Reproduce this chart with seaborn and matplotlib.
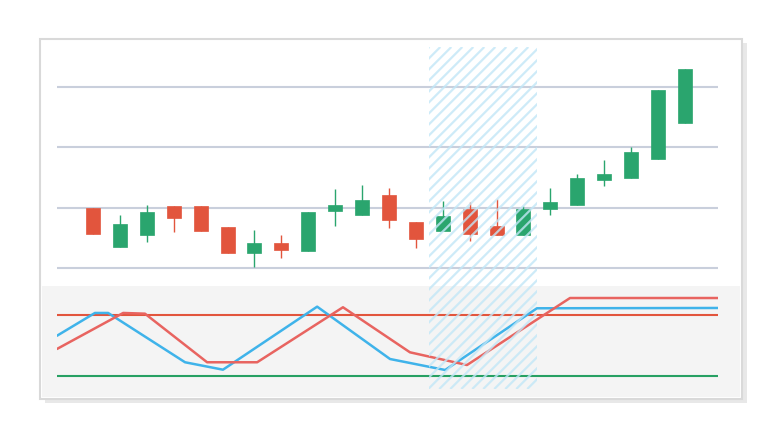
import matplotlib.pyplot as plt
import matplotlib.patches as mpatches
from matplotlib.collections import LineCollection
from matplotlib.transforms import IdentityTransform
import seaborn as sns
import pandas as pd
import numpy as np

# dados das velas (OHLC)
opens = [19.9, 13.5, 15.5, 20.3, 20.3, 16.7, 12.5, 14.1, 12.8, 19.4, 18.8, 22.1,
         17.6, 16.1, 19.8, 16.9, 15.4, 19.8, 20.5, 24.5, 24.9, 28.0, 34.0]
closes = [15.7, 17.3, 19.2, 18.2, 16.1, 12.5, 14.1, 13.0, 19.3, 20.5, 21.3, 17.9,
          14.8, 18.6, 15.6, 15.4, 19.8, 20.9, 24.9, 25.5, 29.2, 39.5, 42.9]
highs = [19.9, 18.8, 20.4, 20.3, 20.3, 16.7, 16.3, 15.5, 19.3, 23.1, 23.8, 23.3,
         17.6, 21.1, 20.9, 21.4, 20.3, 23.2, 25.5, 27.9, 30.0, 39.5, 42.9]
lows = [15.7, 13.5, 14.3, 16.0, 16.1, 12.5, 10.2, 11.6, 12.8, 17.0, 18.8, 16.6,
        13.3, 16.1, 14.4, 15.4, 15.4, 18.8, 20.5, 23.5, 24.9, 28.0, 34.0]

# oscilador estocástico
k_x = [-1.34, 0.07, 0.56, 3.42, 4.83, 8.33, 11.04, 13.09, 16.5, 23.23]
k_vals = [59.6, 82.0, 82.0, 33.5, 26.2, 88.2, 36.7, 25.9, 86.6, 86.9]
d_x = [-1.34, 1.12, 1.93, 4.24, 6.10, 9.29, 11.78, 13.9, 17.73, 23.23]
d_vals = [46.6, 82.0, 81.3, 33.5, 33.5, 87.6, 43.3, 30.8, 96.7, 96.7]

overbought = 80
oversold = 20
band_start, band_end = 12.5, 16.5
grid_levels = [10, 20, 30, 40]

UP = '#2aa56e'
DOWN = '#e2553d'
BLUE = '#3fb3ea'
RED_LINE = '#e86460'

sns.set_theme(style='white')

fig = plt.figure(figsize=(7.8, 4.39), dpi=100)
fig.patch.set_facecolor('white')

# cartão com sombra (atrás dos eixos)
fig.patches.append(mpatches.Rectangle((0.0513 + 0.006, 0.0888 - 0.01), 0.9, 0.82,
                                      transform=fig.transFigure, facecolor='#e8e8e8',
                                      edgecolor='none', zorder=-3))
fig.patches.append(mpatches.Rectangle((0.0513, 0.0888), 0.9, 0.82,
                                      transform=fig.transFigure, facecolor='white',
                                      edgecolor='#d9d9d9', linewidth=1.5, zorder=-2))
fig.patches.append(mpatches.Rectangle((0.0538, 0.0925), 0.895, 0.2537,
                                      transform=fig.transFigure, facecolor='#f4f4f4',
                                      edgecolor='none', zorder=-1))

ax = fig.add_axes([0.07308, 0.3462, 0.8474, 0.5445])
ax2 = fig.add_axes([0.07308, 0.1116, 0.8474, 0.2346], sharex=ax)
for a in (ax, ax2):
    a.set_facecolor('none')
    for s in a.spines.values():
        s.set_visible(False)
    a.tick_params(left=False, bottom=False, labelleft=False, labelbottom=False)

# ============================================
# VELAS
# ============================================
df = pd.DataFrame({'open': opens, 'close': closes, 'high': highs, 'low': lows})
df['idx'] = np.arange(len(df))
df['up'] = df['close'] >= df['open']
colors = [UP if u else DOWN for u in df['up']]

for lvl in grid_levels:
    ax.axhline(lvl, color='#c9cfdc', lw=1.5, zorder=1)

ax.vlines(df['idx'], df['low'], df['high'], colors=colors, lw=1.0, zorder=2)
ax.bar(df['idx'], (df['close'] - df['open']).abs(),
       bottom=df[['open', 'close']].min(axis=1), width=0.52,
       color=colors, edgecolor=colors, linewidth=0.5, zorder=3)
ax.set_xlim(-1.34, 23.23)
ax.set_ylim(7.0, 46.6)

# ============================================
# OSCILADOR
# ============================================
ax2.axhline(overbought, color=DOWN, lw=1.5, zorder=1)
ax2.axhline(oversold, color='#27a063', lw=1.5, zorder=1)
sns.lineplot(x=k_x, y=k_vals, ax=ax2, color=BLUE, lw=1.8, zorder=3)
sns.lineplot(x=d_x, y=d_vals, ax=ax2, color=RED_LINE, lw=1.8, zorder=3)
ax2.set_ylim(7.2, 108.5)
ax2.set_xlim(-1.34, 23.23)
ax2.set_xlabel('')
ax2.set_ylabel('')

# faixa hachurada (listras diagonais nos dois painéis)
x0 = ax.transData.transform((band_start, 0))[0]
x1 = ax.transData.transform((band_end, 0))[0]
y_top = ax.transAxes.transform((0, 1))[1]
y_bot = ax2.transAxes.transform((0, 0))[1]
h = y_top - y_bot
segs = [[(xs, y_bot), (xs + h, y_top)] for xs in np.arange(x0 - h, x1 + 1, 11.0)]
stripes = LineCollection(segs, colors='#c2e7f7', linewidths=1.6, alpha=0.8,
                         transform=IdentityTransform(), zorder=10)
clip = mpatches.Rectangle((x0, y_bot), x1 - x0, h, transform=IdentityTransform())
stripes.set_clip_path(clip)
fig.add_artist(stripes)

plt.savefig('out.png', dpi=100)
